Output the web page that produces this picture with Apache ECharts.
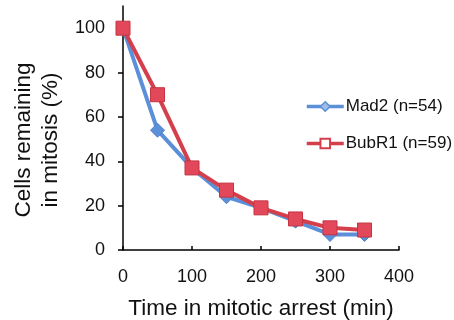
<!DOCTYPE html>
<html>
<head>
<meta charset="utf-8">
<script src="https://cdn.jsdelivr.net/npm/echarts@6/dist/echarts.min.js"></script>
<style>html,body{margin:0;padding:0;background:#fff}#c{width:454px;height:320px}</style>
</head>
<body>
<div id="c"></div>
<script>
const times = [0, 50, 100, 150, 200, 250, 300, 350];
const mad2 = [100, 54, 37, 24, 19, 13, 7, 7];
const bubr1 = [100, 70, 37, 27, 19, 14, 10, 9];
const seriesNames = ['Mad2 (n=54)', 'BubR1 (n=59)'];
const yTicks = [0, 20, 40, 60, 80, 100];
const xTicks = [0, 100, 200, 300, 400];

const FONT = 'Liberation Sans, Arial, sans-serif';
const blue = '#5B8FD8';
const red = '#D43F4C';

const chart = echarts.init(document.getElementById('c'), null, {renderer: 'canvas'});
chart.setOption({
  animation: false,
  textStyle: {fontFamily: FONT, color: '#111'},
  grid: {left: 123, right: 55, top: 6, bottom: 70, containLabel: false, outerBoundsMode: 'none'},
  legend: {
    left: 300, top: 93, orient: 'vertical', itemGap: 20,
    itemWidth: 37, itemHeight: 12,
    textStyle: {fontFamily: FONT, fontSize: 17, color: '#111', padding: [0, 0, 0, -3]},
    data: [
      {name: seriesNames[0], itemStyle: {color: '#9DBCE8', borderColor: blue, borderWidth: 1.5}, lineStyle: {color: blue, width: 3.5}},
      {name: seriesNames[1], itemStyle: {color: '#fff', borderColor: red, borderWidth: 2}, lineStyle: {color: red, width: 3.5}}
    ]
  },
  xAxis: {
    type: 'value', min: 0, max: 400, interval: 100,
    name: 'Time in mitotic arrest (min)', nameLocation: 'middle', nameGap: 47,
    nameTextStyle: {fontFamily: FONT, fontSize: 22.5, color: '#111'},
    axisLine: {show: true, lineStyle: {color: '#000', width: 1.5}},
    axisTick: {show: true, inside: true, length: 4, lineStyle: {color: '#000', width: 1.5}, customValues: xTicks},
    axisLabel: {fontFamily: FONT, fontSize: 18, color: '#111', margin: 18, customValues: xTicks},
    splitLine: {show: false}
  },
  yAxis: {
    type: 'value', min: 0, max: 110, interval: 20,
    name: 'Cells remaining\nin mitosis (%)', nameLocation: 'middle', nameGap: 55, nameRotate: 90,
    nameTextStyle: {fontFamily: FONT, fontSize: 22.5, color: '#111', lineHeight: 27, padding: [0, 24, 0, 0]},
    axisLine: {show: true, lineStyle: {color: '#000', width: 1.5}},
    axisTick: {show: true, inside: false, length: 5, lineStyle: {color: '#000', width: 1.5}, customValues: yTicks},
    axisLabel: {fontFamily: FONT, fontSize: 18, color: '#111', margin: 18, customValues: yTicks},
    splitLine: {show: false}
  },
  series: [
    {
      name: seriesNames[0], type: 'line', data: times.map((t, i) => [t, mad2[i]]),
      symbol: 'diamond', symbolSize: 14,
      lineStyle: {color: blue, width: 4},
      itemStyle: {color: blue, borderColor: '#4F80C8', borderWidth: 1}
    },
    {
      name: seriesNames[1], type: 'line', data: times.map((t, i) => [t, bubr1[i]]),
      symbol: 'rect', symbolSize: 14,
      lineStyle: {color: red, width: 4},
      itemStyle: {color: '#E2485A', borderColor: '#C53443', borderWidth: 1}
    }
  ]
});
</script>
</body>
</html>
